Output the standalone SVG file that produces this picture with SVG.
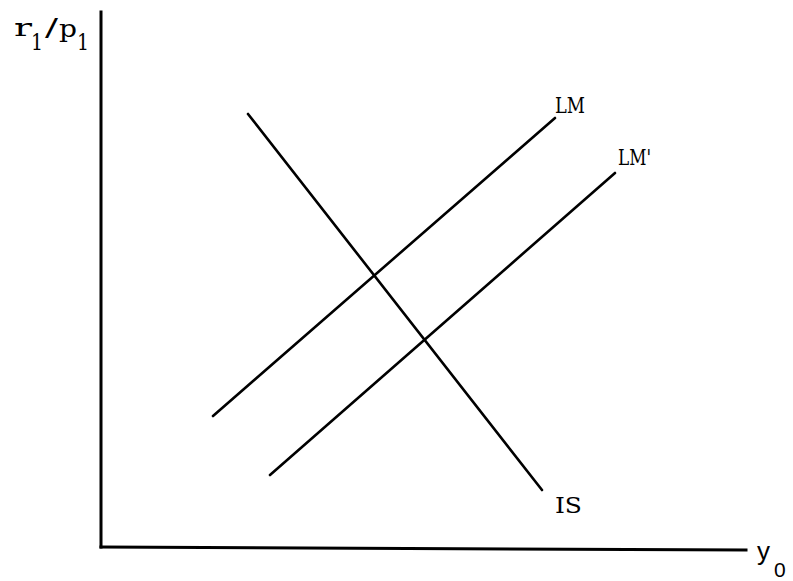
<svg xmlns="http://www.w3.org/2000/svg" width="793" height="581" viewBox="0 0 793 581">
<style>
.ax{stroke:#000;stroke-width:3;fill:none;stroke-linecap:square}
.cv{stroke:#000;stroke-width:2.6;fill:none;stroke-linecap:round}
.lb{font-family:"DejaVu Serif","Liberation Serif",serif;font-size:22px;fill:#000}
.sb{font-family:"DejaVu Serif","Liberation Serif",serif;fill:#000}
.sn{font-family:"Liberation Sans",sans-serif;fill:#000}
</style>
<rect width="793" height="581" fill="#fff"/>
<g id="connectors">
<path id="yaxis" class="ax" d="M101,12 L101,547"/>
<path id="xaxis" class="ax" d="M101,547 L746,550"/>
<path id="LM-curve" class="cv" d="M213,416 L555,118"/>
<path id="LMp-curve" class="cv" d="M270,475 L615,173"/>
<path id="IS-curve" class="cv" d="M248,114 L542,490"/>
</g>
<g id="ylabel">
<text class="sb" font-size="25" x="14" y="36" textLength="18" lengthAdjust="spacingAndGlyphs">r</text>
<text class="sb" font-size="22" x="31" y="50" textLength="12" lengthAdjust="spacingAndGlyphs">1</text>
<text class="sb" font-size="24" x="45" y="36" textLength="13" lengthAdjust="spacingAndGlyphs">/</text>
<text class="sb" font-size="25" x="59" y="37" textLength="18" lengthAdjust="spacingAndGlyphs">p</text>
<text class="sb" font-size="22" x="77" y="50" textLength="12" lengthAdjust="spacingAndGlyphs">1</text>
</g>
<g id="xlabel">
<text class="sn" font-size="26" x="757" y="560">y</text>
<text class="sn" font-size="21" x="774" y="577">0</text>
</g>
<g id="LM"><text class="lb" font-size="23" x="555" y="113" textLength="30" lengthAdjust="spacingAndGlyphs">LM</text></g>
<g id="LMp"><text class="lb" font-size="23" x="618" y="165" textLength="33" lengthAdjust="spacingAndGlyphs">LM'</text></g>
<g id="IS"><text class="lb" font-size="23" x="555" y="513" textLength="27" lengthAdjust="spacingAndGlyphs">IS</text></g>
</svg>
